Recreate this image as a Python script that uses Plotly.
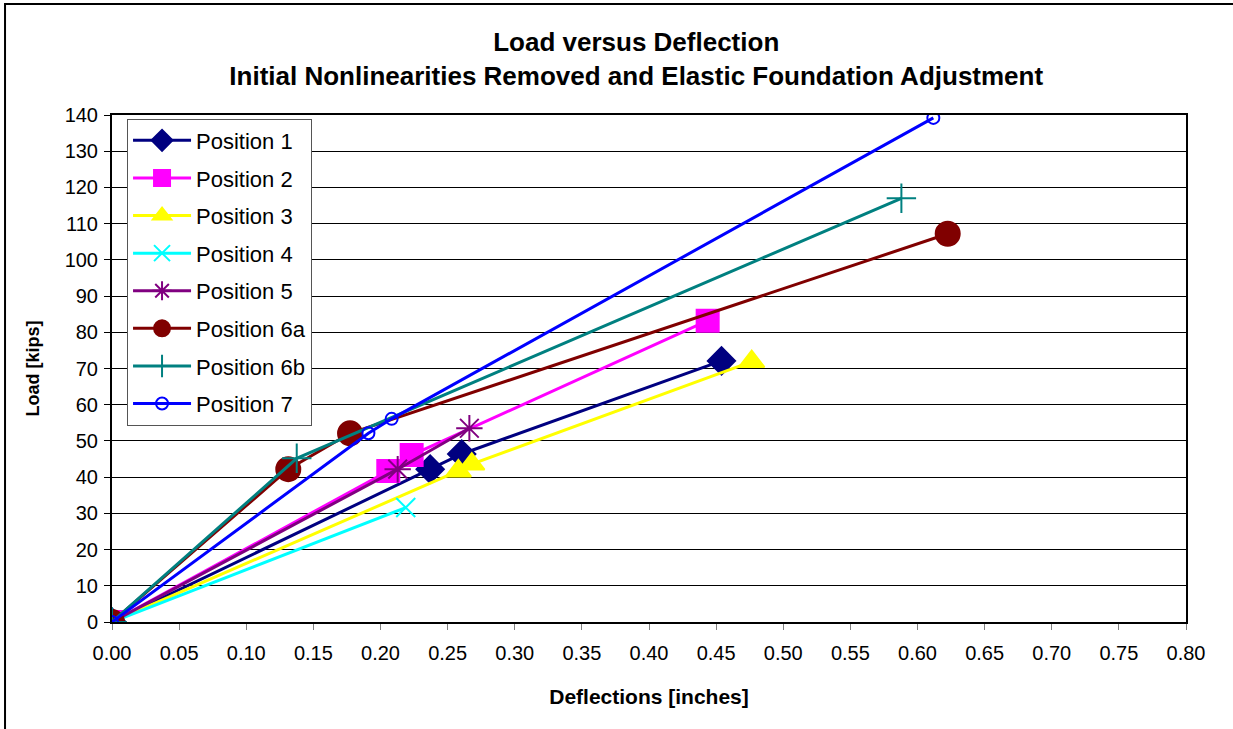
import plotly.graph_objects as go

names = ["Position 1", "Position 2", "Position 3", "Position 4",
         "Position 5", "Position 6a", "Position 6b", "Position 7"]

p1_x = [0.0, 0.237, 0.2605, 0.454]
p1_y = [0.0, 42.2, 46.4, 72.1]
p2_x = [0.0, 0.2058, 0.2232, 0.4437]
p2_y = [0.0, 41.7, 46.1, 83.2]
p3_x = [0.0, 0.258, 0.268, 0.4765]
p3_y = [0.0, 41.7, 43.6, 71.9]
p4_x = [0.0, 0.2188]
p4_y = [0.0, 31.6]
p5_x = [0.0, 0.2128, 0.2662]
p5_y = [0.0, 42.2, 53.5]
p6a_x = [0.0, 0.1313, 0.1773, 0.6225]
p6a_y = [0.0, 42.2, 52.1, 107.2]
p6b_x = [0.0, 0.1376, 0.588]
p6b_y = [0.0, 45.2, 117.0]
p7_x = [0.0, 0.191, 0.2083, 0.6118]
p7_y = [0.0, 52.1, 56.1, 139.2]

xs = [p1_x, p2_x, p3_x, p4_x, p5_x, p6a_x, p6b_x, p7_x]
ys = [p1_y, p2_y, p3_y, p4_y, p5_y, p6a_y, p6b_y, p7_y]

colors = ["#000080", "#FF00FF", "#FFFF00", "#00FFFF",
          "#800080", "#800000", "#008080", "#0000FF"]
symbols = ["diamond", "square", "triangle-up", "x-thin-open",
           "asterisk-open", "circle", "cross-thin-open", "circle-open"]
sizes = [21, 22, 22, 19, 22, 24, 21, 12]

x_ticks = [round(i * 0.05, 2) for i in range(17)]
y_ticks = list(range(0, 141, 10))

fig = go.Figure()
for i, n in enumerate(names):
    fig.add_trace(go.Scatter(
        x=xs[i], y=ys[i], name=n, mode="lines+markers",
        legendgroup=n,
        line=dict(color=colors[i], width=3),
        marker=dict(symbol=symbols[i], size=sizes[i], color=colors[i],
                    line=dict(color=colors[i], width=2)),
    ))

font_family = "Liberation Sans, Arial, sans-serif"
fig.update_layout(
    width=1233, height=729,
    margin=dict(l=112, r=47, t=115, b=107),
    paper_bgcolor="white", plot_bgcolor="white",
    font=dict(family=font_family, color="black"),
    title=dict(
        text="<b>Load versus Deflection<br>Initial Nonlinearities Removed and Elastic Foundation Adjustment</b>",
        x=0.516, xanchor="center", xref="container",
        y=0.93, yanchor="top",
        font=dict(size=26, family=font_family),
    ),
    xaxis=dict(
        range=[0, 0.8], tickvals=x_ticks,
        ticktext=[f"{v:.2f}" for v in x_ticks],
        showgrid=False, zeroline=False,
        showline=True, linecolor="black", linewidth=2, mirror=True,
        ticks="outside", ticklen=6, tickcolor="gray", tickwidth=1,
        tickfont=dict(size=20), ticklabelstandoff=6,
        title=dict(text="<b>Deflections [inches]</b>", font=dict(size=21), standoff=26),
    ),
    yaxis=dict(
        range=[0, 140], tickvals=y_ticks,
        showgrid=True, gridcolor="black", gridwidth=1, zeroline=False,
        showline=True, linecolor="black", linewidth=2, mirror=True,
        ticks="outside", ticklen=6, tickcolor="black", tickwidth=1,
        tickfont=dict(size=20), ticklabelstandoff=2,
        title=dict(text="<b>Load [kips]</b>", font=dict(size=18), standoff=20),
    ),
    legend=dict(
        x=0.014, y=0.993, xanchor="left", yanchor="top",
        bgcolor="white", bordercolor="#555555", borderwidth=1,
        font=dict(size=22, family=font_family),
        tracegroupgap=6, itemwidth=58,
    ),
    showlegend=True,
)

fig.add_shape(type="rect", xref="paper", yref="paper",
              x0=-0.0996, x1=1.046, y0=-0.23, y1=1.219,
              line=dict(color="black", width=2), layer="below")

fig.write_html("out.html")
